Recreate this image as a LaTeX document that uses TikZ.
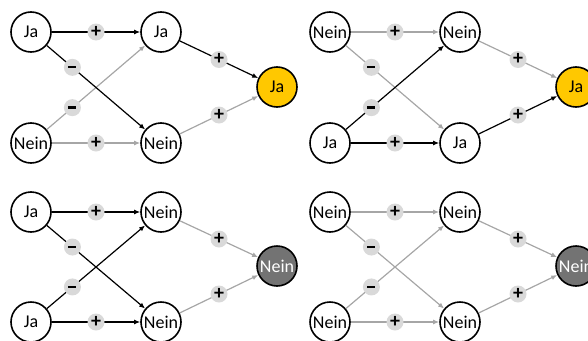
\documentclass[tikz,border=0pt]{standalone}
\usepackage{fontspec}
\setmainfont{Carlito}
\usetikzlibrary{arrows.meta}
\definecolor{edgegray}{HTML}{A6A6A6}
\definecolor{badgegray}{HTML}{D9D9D9}
\definecolor{gold}{HTML}{FFC800}
\definecolor{darkout}{HTML}{737373}
\tikzset{
  state/.style={circle,draw=black,line width=1.6pt,minimum size=40pt,inner sep=0pt,fill=white,font=\fontsize{18}{18}\selectfont},
  yesout/.style={state,fill=gold},
  noout/.style={state,fill=darkout,text=white},
  on/.style={draw=black,line width=1.2pt,-{Latex[length=6pt,width=5pt]}},
  off/.style={draw=edgegray,line width=1.2pt,-{Latex[length=6pt,width=5pt]}},
  sgn/.style={circle,fill=badgegray,minimum size=17pt,inner sep=0pt,text=black,font=\bfseries\fontsize{20}{20}\selectfont},
}
\newcommand{\plusmark}{\raisebox{0.5pt}{+}}
\newcommand{\minusmark}{\raisebox{0.5pt}{\rule{8pt}{2.4pt}}}
\begin{document}
\begin{tikzpicture}[x=1pt,y=-1pt]
\useasboundingbox (0,0) rectangle (588,340);
% Panel 1
\node[state] (p1a) at (31,32) {Ja};
\node[state] (p1b) at (31,143) {Nein};
\node[state] (p1c) at (161,32) {Ja};
\node[state] (p1d) at (161,143) {Nein};
\node[yesout] (p1o) at (277,87) {Ja};
\draw[off] (p1b) -- node[sgn,pos=0.26]{\minusmark} (p1c);
\draw[off] (p1b) -- node[sgn]{\plusmark} (p1d);
\draw[off] (p1d) -- node[sgn]{\plusmark} (p1o);
\draw[on] (p1a) -- node[sgn]{\plusmark} (p1c);
\draw[on] (p1a) -- node[sgn,pos=0.26]{\minusmark} (p1d);
\draw[on] (p1c) -- node[sgn]{\plusmark} (p1o);
% Panel 2
\node[state] (p2a) at (330,32) {Nein};
\node[state] (p2b) at (330,143) {Ja};
\node[state] (p2c) at (460,32) {Nein};
\node[state] (p2d) at (460,143) {Ja};
\node[yesout] (p2o) at (576,87) {Ja};
\draw[off] (p2a) -- node[sgn]{\plusmark} (p2c);
\draw[off] (p2a) -- node[sgn,pos=0.26]{\minusmark} (p2d);
\draw[off] (p2c) -- node[sgn]{\plusmark} (p2o);
\draw[on] (p2b) -- node[sgn,pos=0.26]{\minusmark} (p2c);
\draw[on] (p2b) -- node[sgn]{\plusmark} (p2d);
\draw[on] (p2d) -- node[sgn]{\plusmark} (p2o);
% Panel 3
\node[state] (p3a) at (31,212) {Ja};
\node[state] (p3b) at (31,322) {Ja};
\node[state] (p3c) at (161,212) {Nein};
\node[state] (p3d) at (161,322) {Nein};
\node[noout] (p3o) at (277,266) {Nein};
\draw[off] (p3c) -- node[sgn]{\plusmark} (p3o);
\draw[off] (p3d) -- node[sgn]{\plusmark} (p3o);
\draw[on] (p3b) -- node[sgn,pos=0.26]{\minusmark} (p3c);
\draw[on] (p3b) -- node[sgn]{\plusmark} (p3d);
\draw[on] (p3a) -- node[sgn]{\plusmark} (p3c);
\draw[on] (p3a) -- node[sgn,pos=0.26]{\minusmark} (p3d);
% Panel 4
\node[state] (p4a) at (330,212) {Nein};
\node[state] (p4b) at (330,322) {Nein};
\node[state] (p4c) at (460,212) {Nein};
\node[state] (p4d) at (460,322) {Nein};
\node[noout] (p4o) at (576,266) {Nein};
\draw[off] (p4a) -- node[sgn]{\plusmark} (p4c);
\draw[off] (p4a) -- node[sgn,pos=0.26]{\minusmark} (p4d);
\draw[off] (p4b) -- node[sgn,pos=0.26]{\minusmark} (p4c);
\draw[off] (p4b) -- node[sgn]{\plusmark} (p4d);
\draw[off] (p4c) -- node[sgn]{\plusmark} (p4o);
\draw[off] (p4d) -- node[sgn]{\plusmark} (p4o);
\end{tikzpicture}
\end{document}
